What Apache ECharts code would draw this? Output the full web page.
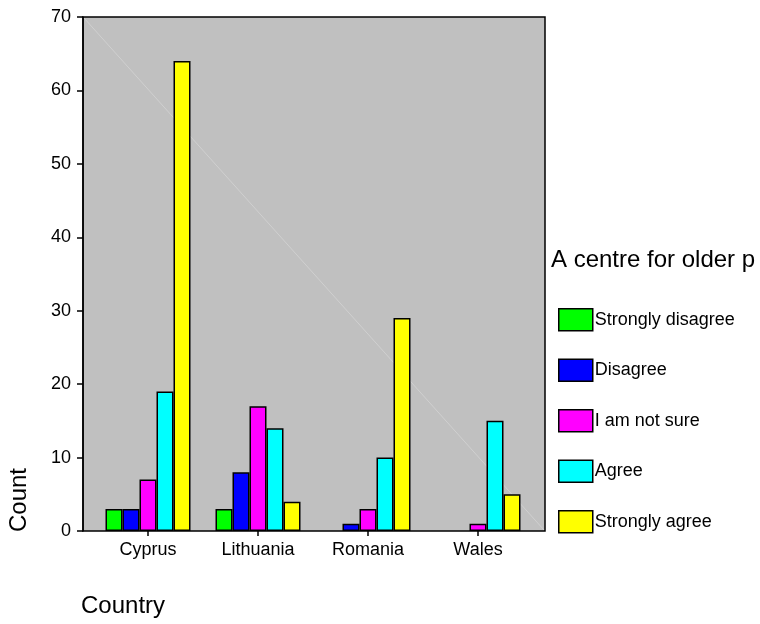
<!DOCTYPE html>
<html><head><meta charset="utf-8">
<script src="https://cdn.jsdelivr.net/npm/echarts@6/dist/echarts.min.js"></script>
<style>html,body{margin:0;padding:0;background:#fff}#c{width:760px;height:624px}</style>
</head><body><div id="c"></div>
<script>
const categories = ['Cyprus', 'Lithuania', 'Romania', 'Wales'];
const seriesNames = ['Strongly disagree', 'Disagree', 'I am not sure', 'Agree', 'Strongly agree'];
const stronglyDisagree = [3, 3, null, null];
const disagree = [3, 8, 1, null];
const notSure = [7, 17, 3, 1];
const agree = [19, 14, 10, 15];
const stronglyAgree = [64, 4, 29, 5];
const yTicks = [0, 10, 20, 30, 40, 50, 60, 70];
const colors = ['#00FF00', '#0000FF', '#FF00FF', '#00FFFF', '#FFFF00'];
const values = [stronglyDisagree, disagree, notSure, agree, stronglyAgree];

const font = '"Liberation Sans", Arial, sans-serif';
const chart = echarts.init(document.getElementById('c'));
chart.setOption({
  animation: false,
  title: {
    text: 'A centre for older p', left: 551, top: 248, padding: 0,
    textStyle: {fontFamily: font, fontSize: 24, fontWeight: 'normal', color: '#000'}
  },
  legend: {
    orient: 'vertical', left: 558, top: 308, padding: 0,
    itemWidth: 34, itemHeight: 22, itemGap: 27,
    icon: 'rect',
    itemStyle: {borderColor: '#000', borderWidth: 1.5},
    textStyle: {fontFamily: font, fontSize: 18, color: '#000', padding: [0, 0, 0, -3]},
    data: seriesNames
  },
  grid: [
    {left: 83, right: 215, top: 17, bottom: 93, show: true, backgroundColor: '#C0C0C0', borderColor: '#000', borderWidth: 1.5},
    {left: 93, right: 227, top: 17, bottom: 93}
  ],
  xAxis: [
    {gridIndex: 0, type: 'value', min: 0, max: 1, show: false},
    {gridIndex: 1, type: 'category', data: categories,
     axisLine: {show: false},
     axisTick: {show: true, alignWithLabel: true, length: 5, lineStyle: {color: '#000', width: 1.5}},
     axisLabel: {fontFamily: font, fontSize: 18, color: '#000', margin: 10}}
  ],
  yAxis: [
    {gridIndex: 0, type: 'value', min: 0, max: 70, interval: 10,
     axisLine: {show: true, lineStyle: {color: '#000', width: 1.5}},
     axisTick: {show: true, length: 6, lineStyle: {color: '#000', width: 1.5}},
     axisLabel: {fontFamily: font, fontSize: 18, color: '#000', margin: 12,
       formatter: v => yTicks.includes(v) ? String(v) : ''},
     splitLine: {show: false}},
    {gridIndex: 1, type: 'value', min: 0, max: 70, show: false, splitLine: {show: false}}
  ],
  graphic: [
    {type: 'line', z: 1, shape: {x1: 84, y1: 18, x2: 544, y2: 530}, style: {stroke: '#D0D0D0', lineWidth: 1}},
    {type: 'text', left: 7, top: 468, rotation: Math.PI / 2,
     style: {text: 'Count', font: '24px ' + font, fill: '#000'}},
    {type: 'text', left: 81, top: 594,
     style: {text: 'Country', font: '24px ' + font, fill: '#000'}}
  ],
  series: seriesNames.map((name, i) => ({
    name, type: 'bar', xAxisIndex: 1, yAxisIndex: 1,
    data: values[i], barWidth: 17, barGap: '0%', z: 3,
    itemStyle: {color: colors[i], borderColor: '#000', borderWidth: 1.5}
  }))
});
</script></body></html>
